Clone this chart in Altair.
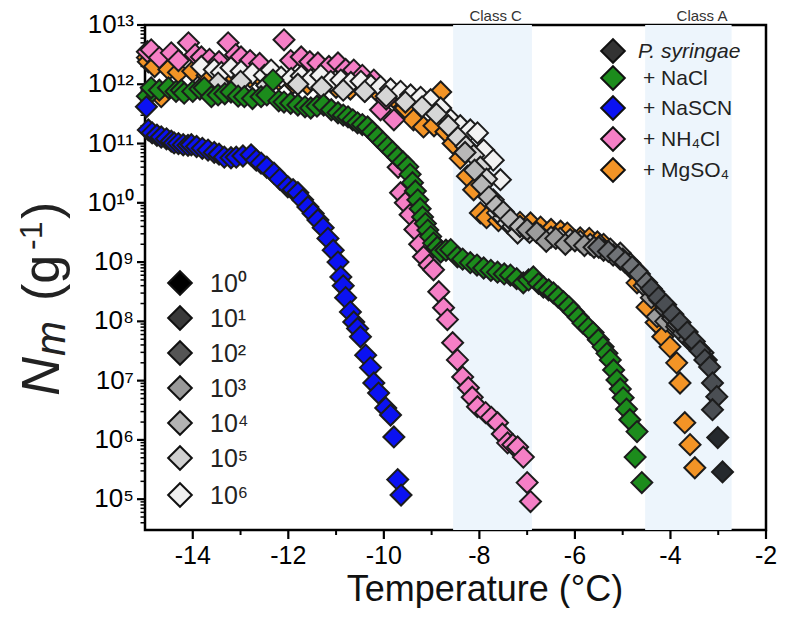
import altair as alt
import pandas as pd

FONT = "Liberation Sans"
W, H = 621, 505

# ---------------- data: (temperature °C, log10 Nm) ----------------
NASCN = [(-14.97, 11.62), (-14.93, 11.23), (-14.85, 11.18), (-14.75, 11.14), (-14.66, 11.11),
         (-14.55, 11.08), (-14.45, 11.04), (-14.39, 11.01), (-14.30, 11.00), (-14.20, 10.98),
         (-14.10, 10.97), (-14.03, 10.98), (-13.92, 10.95), (-13.80, 10.92), (-13.68, 10.89),
         (-13.55, 10.85), (-13.45, 10.82), (-13.34, 10.77), (-13.20, 10.76), (-13.09, 10.77),
         (-12.95, 10.79), (-12.78, 10.81), (-12.67, 10.72), (-12.57, 10.67), (-12.45, 10.60),
         (-12.30, 10.50), (-12.18, 10.40), (-12.01, 10.27), (-11.90, 10.22), (-11.80, 10.17),
         (-11.70, 10.05), (-11.59, 9.93), (-11.48, 9.82), (-11.38, 9.71), (-11.27, 9.58),
         (-11.17, 9.40), (-11.06, 9.20), (-10.96, 9.00), (-10.90, 8.75), (-10.85, 8.60),
         (-10.80, 8.40), (-10.70, 8.16), (-10.63, 7.99), (-10.55, 7.88), (-10.49, 7.74),
         (-10.38, 7.43), (-10.28, 7.22), (-10.21, 6.96), (-10.11, 6.79), (-9.96, 6.54),
         (-9.86, 6.42), (-9.79, 6.05), (-9.71, 5.33), (-9.64, 5.07)]

NACL = [(-14.95, 11.80), (-14.87, 11.94), (-14.70, 11.90), (-14.51, 11.94), (-14.35, 11.88),
        (-14.24, 11.90), (-14.18, 11.85), (-14.00, 11.88), (-13.85, 11.92), (-13.76, 11.94),
        (-13.61, 11.79), (-13.47, 11.82), (-13.33, 11.84), (-13.20, 11.87), (-13.05, 11.80),
        (-12.92, 11.79), (-12.75, 11.76), (-12.57, 11.79), (-12.45, 11.82), (-12.32, 12.07),
        (-12.20, 11.72), (-12.09, 11.70), (-11.95, 11.68), (-11.80, 11.65), (-11.65, 11.62),
        (-11.53, 11.60), (-11.40, 11.63), (-11.26, 11.65), (-11.10, 11.57), (-10.96, 11.52),
        (-10.85, 11.48), (-10.75, 11.45), (-10.65, 11.40), (-10.55, 11.35), (-10.45, 11.32),
        (-10.34, 11.28), (-10.24, 11.20), (-10.13, 11.11), (-10.02, 11.02), (-9.92, 10.94),
        (-9.82, 10.86), (-9.71, 10.77), (-9.60, 10.69), (-9.50, 10.61), (-9.45, 10.48),
        (-9.40, 10.34), (-9.34, 10.20), (-9.29, 10.05), (-9.24, 9.90), (-9.19, 9.76),
        (-9.13, 9.65), (-9.08, 9.54), (-9.02, 9.43), (-8.96, 9.32), (-8.88, 9.25),
        (-8.81, 9.17), (-8.70, 9.20), (-8.60, 9.21), (-8.46, 9.09), (-8.35, 9.05),
        (-8.19, 8.99), (-8.05, 8.95), (-7.91, 8.90), (-7.76, 8.86), (-7.62, 8.83),
        (-7.48, 8.80), (-7.35, 8.78), (-7.22, 8.72), (-7.08, 8.65), (-6.97, 8.70),
        (-6.87, 8.75), (-6.76, 8.64), (-6.66, 8.58), (-6.55, 8.53), (-6.45, 8.48),
        (-6.35, 8.41), (-6.24, 8.33), (-6.13, 8.25), (-6.03, 8.16), (-5.93, 8.07),
        (-5.83, 7.97), (-5.72, 7.89), (-5.62, 7.81), (-5.51, 7.69), (-5.41, 7.57),
        (-5.33, 7.46), (-5.26, 7.35), (-5.19, 7.18), (-5.12, 7.01), (-5.05, 6.86),
        (-4.99, 6.71), (-4.92, 6.52), (-4.85, 6.34), (-4.70, 6.14), (-4.74, 5.71),
        (-4.60, 5.28)]

NH4CL = [(-14.95, 12.55), (-14.87, 12.58), (-14.70, 12.45), (-14.45, 12.53), (-14.30, 12.40),
         (-14.09, 12.70), (-13.95, 12.50), (-13.82, 12.46), (-13.65, 12.42), (-13.45, 12.38),
         (-13.26, 12.70), (-13.10, 12.50), (-12.99, 12.46), (-12.80, 12.40), (-12.60, 12.35),
         (-12.09, 12.75), (-11.95, 12.40), (-11.73, 12.46), (-11.55, 12.38), (-11.38, 12.36),
         (-11.15, 12.30), (-10.96, 12.36), (-10.80, 12.25), (-10.63, 12.24), (-10.45, 12.15),
         (-10.21, 12.07), (-10.07, 11.57), (-9.95, 11.75), (-9.79, 11.40), (-9.70, 10.60),
         (-9.65, 10.17), (-9.55, 10.00), (-9.45, 9.80), (-9.35, 9.55), (-9.25, 9.30),
         (-9.17, 9.09), (-9.05, 8.95), (-8.96, 8.87), (-8.85, 8.50), (-8.75, 8.23),
         (-8.67, 8.03), (-8.56, 7.64), (-8.46, 7.35), (-8.35, 7.06), (-8.23, 6.88),
         (-8.15, 6.72), (-8.04, 6.56), (-7.87, 6.46), (-7.75, 6.38), (-7.62, 6.29),
         (-7.52, 6.10), (-7.41, 5.95), (-7.30, 5.92), (-7.20, 5.88), (-7.08, 5.71),
         (-7.00, 5.28), (-6.93, 4.96)]

MGSO4 = [(-14.95, 12.45), (-14.93, 12.38), (-14.80, 12.30), (-14.66, 11.79), (-14.50, 12.25),
         (-14.30, 12.20), (-14.00, 12.22), (-13.70, 12.15), (-13.40, 12.18), (-13.10, 12.10),
         (-12.80, 12.12), (-12.50, 12.05), (-12.20, 12.08), (-11.90, 12.02), (-11.60, 12.00),
         (-11.30, 11.98), (-11.00, 11.95), (-10.70, 11.92), (-10.40, 11.88), (-10.10, 11.85),
         (-9.80, 11.78), (-9.55, 11.60), (-9.38, 11.40), (-9.17, 11.28), (-8.95, 11.30),
         (-8.81, 11.87), (-8.70, 11.20), (-8.55, 11.00), (-8.40, 10.75), (-8.25, 10.45),
         (-8.12, 10.22), (-7.98, 9.83), (-7.85, 9.75), (-7.60, 9.70), (-7.35, 9.68),
         (-7.15, 9.67), (-6.93, 9.66), (-6.72, 9.59), (-6.50, 9.55), (-6.30, 9.52),
         (-6.16, 9.49), (-5.89, 9.41), (-5.70, 9.40), (-5.53, 9.34), (-5.40, 9.30),
         (-5.26, 9.21), (-5.05, 9.05), (-4.85, 8.92), (-4.70, 8.65), (-4.49, 8.24),
         (-4.30, 7.98), (-4.16, 7.74), (-4.01, 7.57), (-3.87, 7.30), (-3.80, 6.96),
         (-3.70, 6.29), (-3.59, 5.92), (-3.49, 5.53)]

# P. syringae dilutions
PS_1E6 = [(-13.82, 12.30), (-13.55, 12.25), (-13.40, 12.20), (-13.20, 12.28), (-12.99, 12.22),
          (-12.75, 12.18), (-12.50, 12.15), (-12.36, 12.24), (-12.15, 12.12), (-11.94, 12.10),
          (-11.73, 12.14), (-11.53, 12.08), (-11.32, 12.15), (-11.11, 12.05), (-10.90, 12.07),
          (-10.69, 12.03), (-10.48, 12.05), (-10.27, 11.98), (-10.07, 11.96), (-9.86, 11.92),
          (-9.65, 11.88), (-9.44, 11.82), (-9.23, 11.78), (-9.02, 11.74), (-8.81, 11.60),
          (-8.60, 11.40), (-8.40, 11.30), (-8.19, 11.23), (-8.04, 11.18), (-7.91, 10.89),
          (-7.71, 10.72), (-7.56, 10.39)]
PS_1E5 = [(-13.47, 12.02), (-13.00, 12.05), (-12.45, 11.98), (-11.80, 12.00), (-11.30, 11.95),
          (-10.85, 11.90), (-10.40, 11.88), (-9.95, 11.80), (-9.55, 11.70), (-9.20, 11.62),
          (-8.90, 11.50), (-8.65, 11.30), (-8.45, 11.10), (-8.28, 10.95), (-8.12, 10.80),
          (-7.98, 10.60), (-7.85, 10.40), (-7.71, 10.05), (-7.62, 9.83), (-7.50, 9.75),
          (-7.41, 9.66), (-7.30, 9.60), (-7.20, 9.49)]
PS_1E4 = [(-8.30, 10.85), (-8.10, 10.55), (-7.95, 10.30), (-7.80, 10.10), (-7.65, 9.95),
          (-7.50, 9.85), (-7.35, 9.72), (-7.15, 9.60), (-6.95, 9.50), (-6.72, 9.45),
          (-6.50, 9.42), (-6.31, 9.40), (-6.10, 9.38), (-5.89, 9.35), (-5.68, 9.30),
          (-5.47, 9.28), (-5.26, 9.22), (-5.05, 9.15)]
PS_1E3 = [(-7.00, 9.55), (-6.80, 9.50), (-6.60, 9.35), (-6.40, 9.40), (-6.20, 9.30),
          (-6.00, 9.36), (-5.80, 9.28), (-5.60, 9.25), (-5.40, 9.20), (-5.20, 9.12),
          (-5.00, 9.05), (-4.85, 8.98), (-4.70, 8.85), (-4.55, 8.60), (-4.40, 8.40),
          (-4.28, 8.08), (-4.10, 8.00), (-3.87, 7.91)]
PS_1E2 = [(-5.50, 9.25), (-5.30, 9.18), (-5.10, 9.10), (-4.95, 9.00), (-4.80, 8.92),
          (-4.65, 8.80), (-4.50, 8.65), (-4.35, 8.50), (-4.22, 8.36), (-4.10, 8.20),
          (-3.95, 8.05), (-3.85, 7.95), (-3.74, 7.80), (-3.62, 7.70), (-3.53, 7.64),
          (-3.42, 7.55), (-3.32, 7.47), (-3.25, 7.35)]
PS_1E1 = [(-4.40, 8.55), (-4.25, 8.40), (-4.10, 8.28), (-3.95, 8.12), (-3.80, 7.98),
          (-3.65, 7.82), (-3.50, 7.66), (-3.38, 7.50), (-3.28, 7.35), (-3.18, 7.23),
          (-3.12, 6.96), (-3.03, 6.73), (-3.12, 6.51)]
PS_1E0 = [(-3.01, 6.04), (-2.91, 5.46)]

# draw order: first drawn is bottom-most
SERIES = [
    ("+ MgSO4", MGSO4, "#f39426"),
    ("+ NH4Cl", NH4CL, "#f57fc6"),
    ("1e6", PS_1E6, "#f2f2f2"),
    ("1e5", PS_1E5, "#d6d6d6"),
    ("1e4", PS_1E4, "#b8b8b8"),
    ("1e3", PS_1E3, "#9c9c9c"),
    ("1e2", PS_1E2, "#6f7276"),
    ("1e1", PS_1E1, "#4a4e53"),
    ("1e0", PS_1E0, "#25292d"),
    ("+ NaCl", NACL, "#1c8c1c"),
    ("+ NaSCN", NASCN, "#0b12f2"),
]

BANDS = pd.DataFrame({"label": ["Class C", "Class A"],
                      "start": [-8.55, -4.53], "end": [-6.90, -2.72],
                      "label_x": [-7.66, -3.34]})

# axes (ticks and labels)
X_MAJOR = [-14, -12, -10, -8, -6, -4, -2]
X_LABELS = ["-14", "-12", "-10", "-8", "-6", "-4", "-2"]
X_MINOR = [-13, -11, -9, -7, -5, -3]
Y_LOW = 10 ** 4.48
Y_MAJOR = [1e5, 1e6, 1e7, 1e8, 1e9, 1e10, 1e11, 1e12, 1e13]
Y_LABELS = ["10⁵", "10⁶", "10⁷", "10⁸", "10⁹", "10¹⁰", "10¹¹", "10¹²", "10¹³"]
Y_MINOR = [k * 10.0 ** e for e in range(4, 13) for k in range(2, 10) if Y_LOW < k * 10.0 ** e < 1e13]

SALT_LEGEND = [("P. syringae", "#333333", "italic"), ("+ NaCl", "#1c8c1c", "normal"),
               ("+ NaSCN", "#0b12f2", "normal"), ("+ NH₄Cl", "#f57fc6", "normal"),
               ("+ MgSO₄", "#f39426", "normal")]
DIL_LEGEND = [("10⁰", "#000000"), ("10¹", "#3a3a3a"), ("10²", "#555555"), ("10³", "#999999"),
              ("10⁴", "#b3b3b3"), ("10⁵", "#d0d0d0"), ("10⁶", "#f0f0f0")]

# ---------------- build ----------------
rows = []
for name, pts, _ in SERIES:
    for t, lg in pts:
        rows.append({"series": name, "T": t, "N": 10 ** lg})
df = pd.DataFrame(rows)

xscale = alt.Scale(domain=[-15, -2], nice=False, zero=False)
yscale = alt.Scale(type="log", domain=[Y_LOW, 1e13], nice=False)

bands = alt.Chart(BANDS).mark_rect(color="#edf5fc").encode(
    x=alt.X("start:Q", scale=xscale, axis=None), x2="end:Q",
    y=alt.value(0), y2=alt.value(H))

band_labels = alt.Chart(BANDS).mark_text(font=FONT, fontSize=15, color="#333333",
                                         baseline="alphabetic").encode(
    x=alt.X("label_x:Q", scale=xscale, axis=None), y=alt.value(-4), text="label:N")

names = [s[0] for s in SERIES]
colors = [s[2] for s in SERIES]
points = alt.Chart(df).mark_point(shape="diamond", filled=True, size=440, opacity=1,
                                  stroke="#1c1c1c", strokeWidth=2).encode(
    x=alt.X("T:Q", scale=xscale, axis=None),
    y=alt.Y("N:Q", scale=yscale, axis=None),
    fill=alt.Fill("series:N", scale=alt.Scale(domain=names, range=colors), legend=None))

xdf = pd.DataFrame({"v": X_MAJOR, "lab": X_LABELS})
ydf = pd.DataFrame({"v": Y_MAJOR, "lab": Y_LABELS})

x_major = alt.Chart(xdf).mark_rule(color="black", strokeWidth=2.2).encode(
    x=alt.X("v:Q", scale=xscale, axis=None), y=alt.value(H), y2=alt.value(H + 9))
x_minor = alt.Chart(pd.DataFrame({"v": X_MINOR})).mark_rule(color="black", strokeWidth=2).encode(
    x=alt.X("v:Q", scale=xscale, axis=None), y=alt.value(H), y2=alt.value(H + 5))
x_labels = alt.Chart(xdf).mark_text(font=FONT, fontSize=25, color="black", baseline="top").encode(
    x=alt.X("v:Q", scale=xscale, axis=None), y=alt.value(H + 14), text="lab:N")

y_major = alt.Chart(ydf).mark_rule(color="black", strokeWidth=2.2).encode(
    y=alt.Y("v:Q", scale=yscale, axis=None), x=alt.value(-8), x2=alt.value(0))
y_minor = alt.Chart(pd.DataFrame({"v": Y_MINOR})).mark_rule(color="black", strokeWidth=1.5).encode(
    y=alt.Y("v:Q", scale=yscale, axis=None), x=alt.value(-4.5), x2=alt.value(0))
y_labels = alt.Chart(ydf).mark_text(font=FONT, fontSize=26, color="black", align="right",
                                    baseline="middle").encode(
    y=alt.Y("v:Q", scale=yscale, axis=None), x=alt.value(-11), text="lab:N")

x_title = alt.Chart(pd.DataFrame({"t": ["Temperature (°C)"]})).mark_text(
    font=FONT, fontSize=36, color="#111111", baseline="alphabetic").encode(
    x=alt.value(340), y=alt.value(576), text="t:N")

layers = [bands, band_labels, x_minor, x_major, x_labels, y_minor, y_major, y_labels, x_title, points]

# legend: salts (top right)
salt_y = [26, 53, 83, 114, 145]
for (label, fill, style), yy in zip(SALT_LEGEND, salt_y):
    one = pd.DataFrame({"label": [label]})
    layers.append(alt.Chart(one).mark_point(shape="diamond", filled=True, size=560, opacity=1,
                                            stroke="#111111", strokeWidth=2, color=fill).encode(
        x=alt.value(468), y=alt.value(yy)))
    layers.append(alt.Chart(one).mark_text(font=FONT, fontSize=21, fontStyle=style, color="#222222",
                                           align="left", baseline="middle").encode(
        x=alt.value(493 if style == "italic" else 498), y=alt.value(yy + 1), text="label:N"))

# legend: dilutions (bottom left)
dil_y = [258, 293, 328, 363, 398, 433, 470]
for (label, fill), yy in zip(DIL_LEGEND, dil_y):
    one = pd.DataFrame({"label": [label]})
    layers.append(alt.Chart(one).mark_point(shape="diamond", filled=True, size=560, opacity=1,
                                            stroke="#111111", strokeWidth=2, color=fill).encode(
        x=alt.value(35), y=alt.value(yy)))
    layers.append(alt.Chart(one).mark_text(font=FONT, fontSize=25, color="#222222",
                                           align="left", baseline="middle").encode(
        x=alt.value(65), y=alt.value(yy + 1), text="label:N"))

# y-axis title built from pieces: N_m (g^-1)
TITLE_PIECES = [  # text, size, style, x (baseline), y (start)
    ("N", 54, "italic", -86, 371),
    ("m", 42, "italic", -80, 331),
    ("(g", 52, "normal", -86, 276),
    ("-1", 32, "normal", -103, 225),
    (")", 52, "normal", -86, 194),
]
for text, size, style, bx, sy in TITLE_PIECES:
    one = pd.DataFrame({"t": [text]})
    layers.append(alt.Chart(one).mark_text(font=FONT, fontSize=size, fontStyle=style, color="#222222",
                                           angle=270, align="left", baseline="alphabetic").encode(
        x=alt.value(bx), y=alt.value(sy), text="t:N"))

chart = alt.layer(*layers).properties(
    width=W, height=H,
    autosize=alt.AutoSizeParams(type="none"),
    padding={"left": 137, "top": 17, "right": 11, "bottom": 78},
    background="white",
).configure_view(stroke="black", strokeWidth=2.5)

chart.save("out.html", embed_options={"renderer": "svg", "actions": False})
